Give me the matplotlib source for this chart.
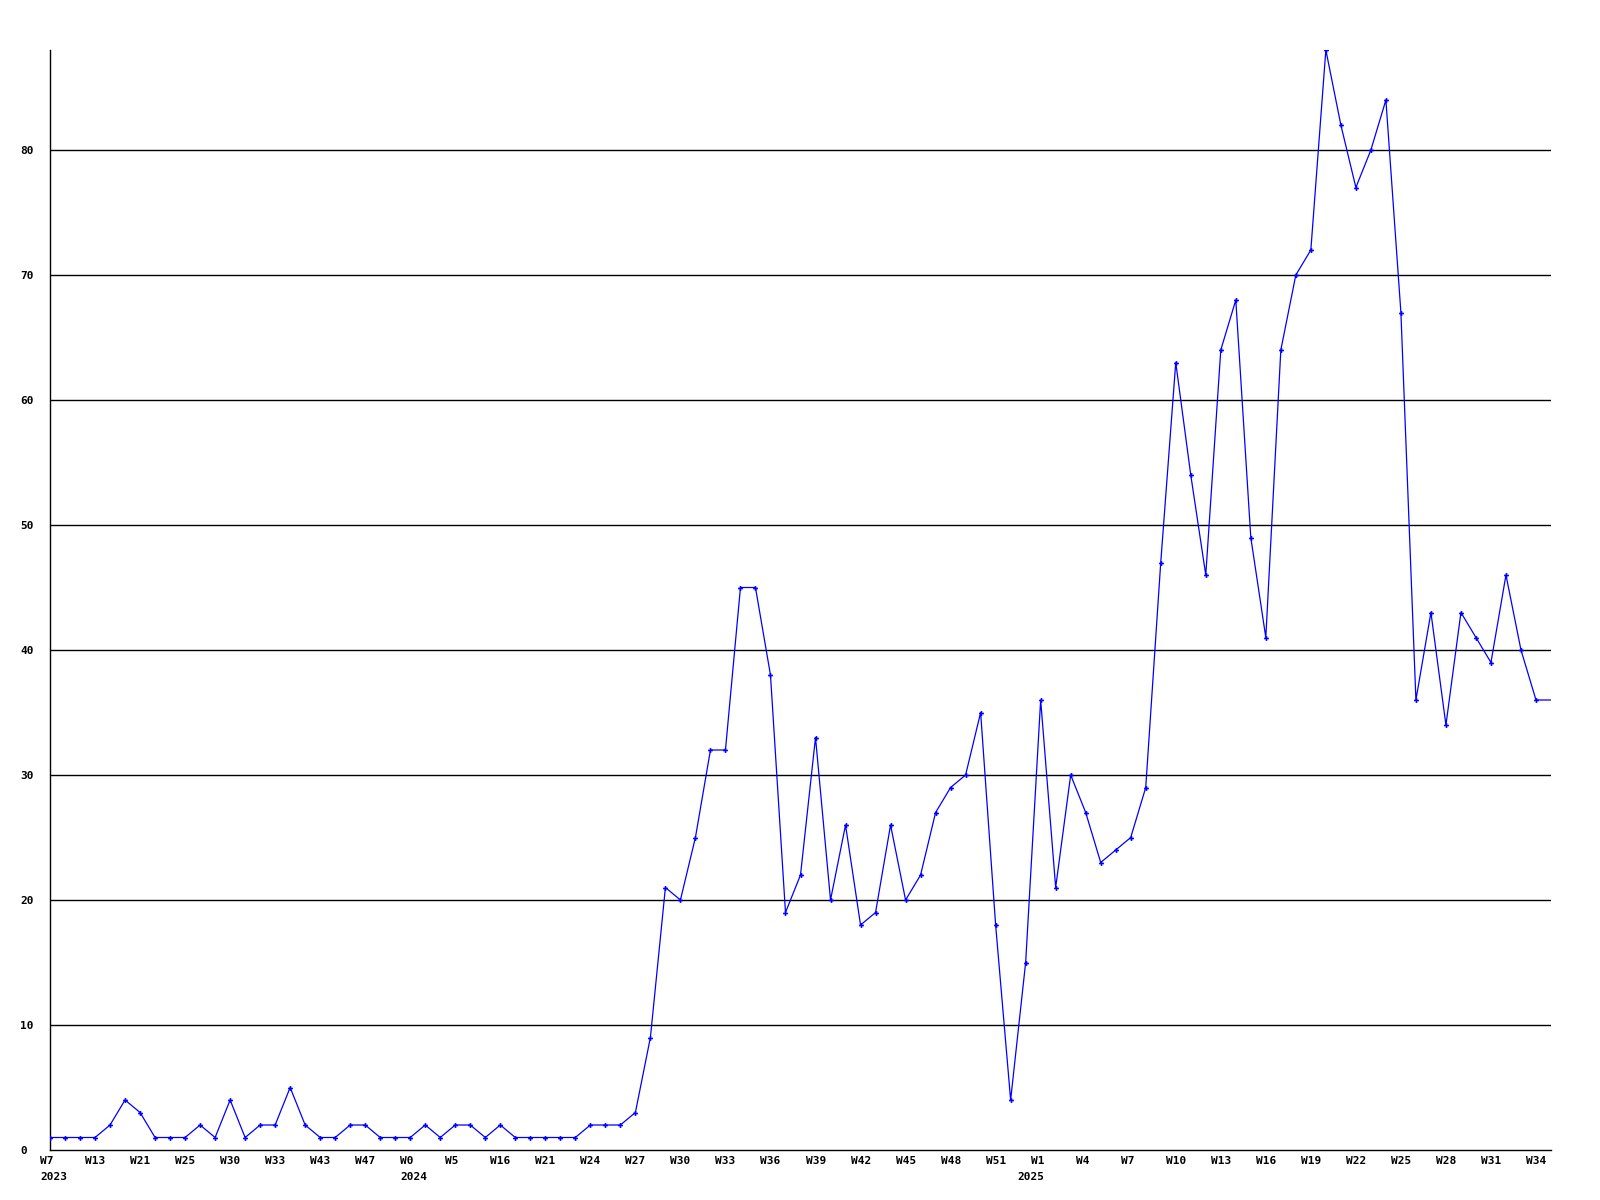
import numpy as np
import matplotlib
matplotlib.use('Agg')
import matplotlib.pyplot as plt
import matplotlib.transforms as mtransforms

# weekly counts (last value only continues the line to the edge)
values = [1, 1, 1, 1, 2, 4, 3, 1, 1, 1,
          2, 1, 4, 1, 2, 2, 5, 2, 1, 1,
          2, 2, 1, 1, 1, 2, 1, 2, 2, 1,
          2, 1, 1, 1, 1, 1, 2, 2, 2, 3,
          9, 21, 20, 25, 32, 32, 45, 45, 38, 19,
          22, 33, 20, 26, 18, 19, 26, 20, 22, 27,
          29, 30, 35, 18, 4, 15, 36, 21, 30, 27,
          23, 24, 25, 29, 47, 63, 54, 46, 64, 68,
          49, 41, 64, 70, 72, 88, 82, 77, 80, 84,
          67, 36, 43, 34, 43, 41, 39, 46, 40, 36,
          36]

week_labels = ['W7', 'W13', 'W21', 'W25', 'W30', 'W33', 'W43', 'W47',
               'W0', 'W5', 'W16', 'W21', 'W24', 'W27', 'W30', 'W33', 'W36',
               'W39', 'W42', 'W45', 'W48', 'W51',
               'W1', 'W4', 'W7', 'W10', 'W13', 'W16', 'W19', 'W22', 'W25',
               'W28', 'W31', 'W34']
label_step = 3

years = ['2023', '2024', '2025']
year_pos = [0, 24, 66]
year_align = ['left', 'left', 'right']

y_ticks = [0, 10, 20, 30, 40, 50, 60, 70, 80]

font = dict(family='DejaVu Sans Mono', weight='bold', size=8)

#%% figure
fig = plt.figure(figsize=(16, 12), dpi=100)
ax = fig.add_axes([50/1600, 50/1200, 1501/1600, 1100/1200])

x = np.arange(len(values))
ax.plot(x, values, color='#0000ff', lw=0.9, zorder=3)
ax.plot(x[:-1], values[:-1], ls='none', marker='P', ms=3.5,
        color='#0000ff', mec='#0000ff', mew=0, zorder=4)

ax.set_xlim(0, len(values) - 1)
ax.set_ylim(0, 88)

for t in y_ticks[1:]:
    ax.axhline(t, color='black', lw=1, zorder=1)

for s in ['top', 'right']:
    ax.spines[s].set_visible(False)
for s in ['left', 'bottom']:
    ax.spines[s].set_linewidth(1)
    ax.spines[s].set_color('black')

ax.set_yticks(y_ticks)
ax.set_yticklabels([str(t) for t in y_ticks], ha='left', **font)
ax.tick_params(axis='y', length=0, pad=21.6)
ax.set_xticks([])

# week and year labels under the axis
trans = mtransforms.blended_transform_factory(ax.transData, ax.transAxes)
for i, lab in enumerate(week_labels):
    tr = mtransforms.offset_copy(trans, fig=fig, x=-10, y=-11, units='dots')
    ax.text(i * label_step, 0, lab, transform=tr, ha='left', va='center', **font)

for yr, p, al in zip(years, year_pos, year_align):
    dx = -10 if al == 'left' else 4
    tr = mtransforms.offset_copy(trans, fig=fig, x=dx, y=-27, units='dots')
    ax.text(p, 0, yr, transform=tr, ha=al, va='center', **font)

fig.savefig('out.png', dpi=100, facecolor='white')
